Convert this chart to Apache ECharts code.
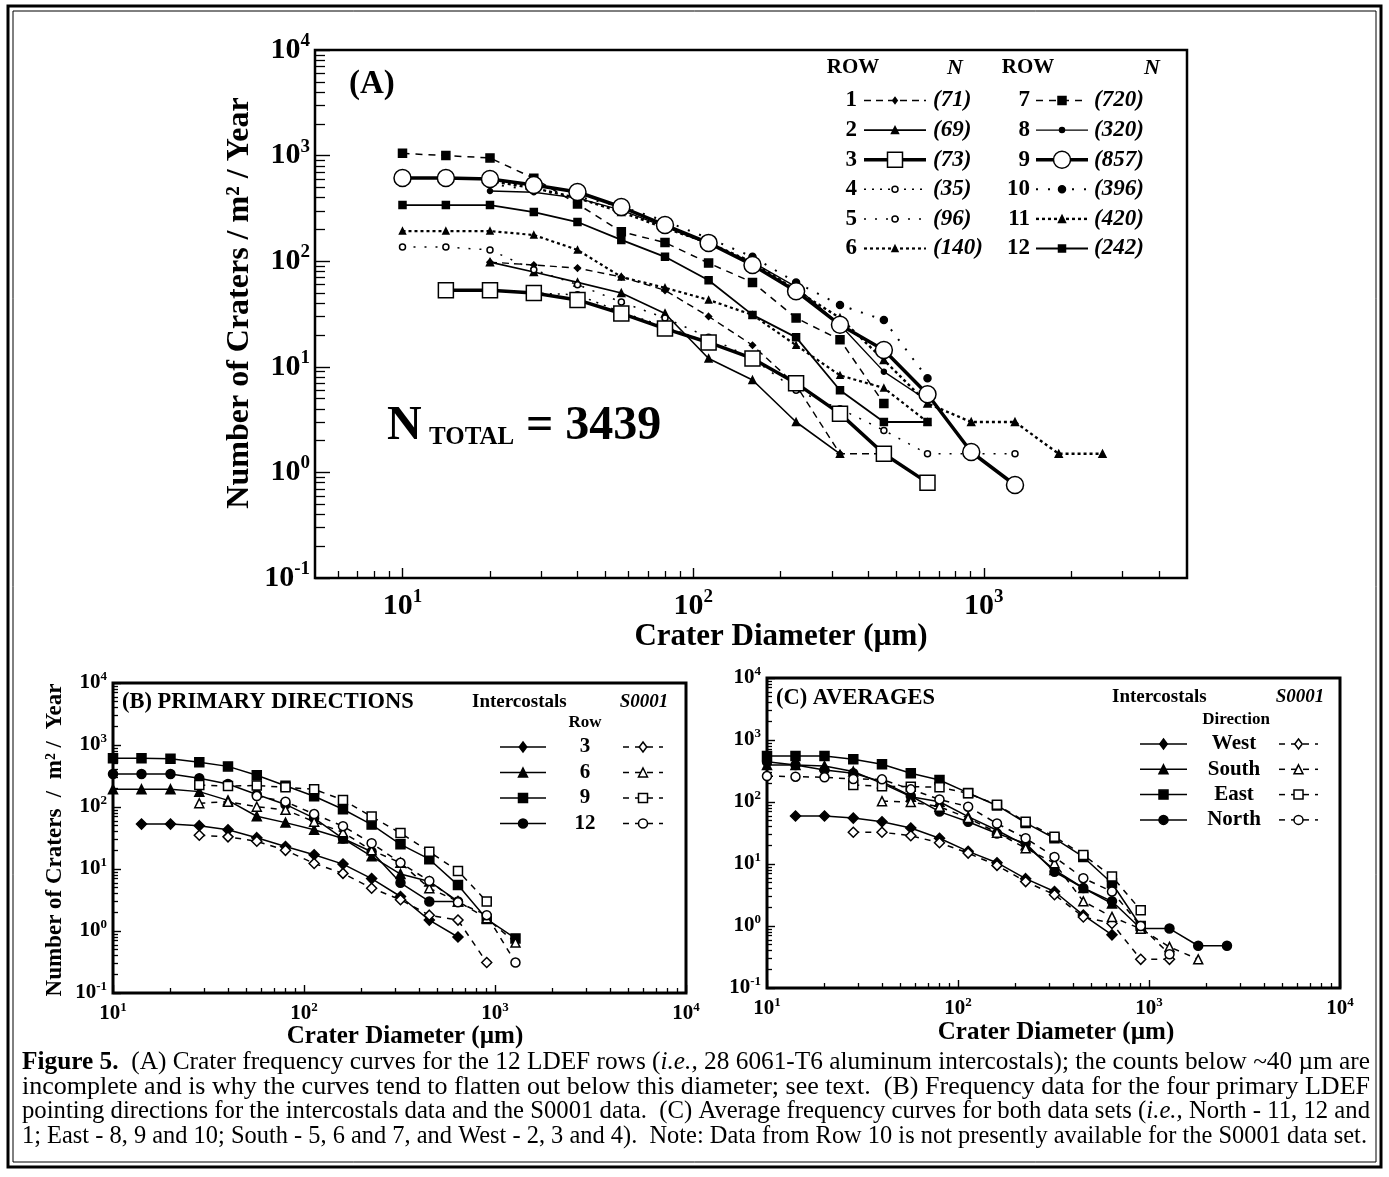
<!DOCTYPE html>
<html lang="en">
<head>
<meta charset="UTF-8" />
<title>LDEF crater frequency</title>
<style>
  html, body { margin: 0; padding: 0; background: #fff; }
  #main { width: 1389px; height: 1177px; }
</style>
</head>
<body>
<div id="main"></div>
<script src="https://cdn.jsdelivr.net/npm/echarts@6/dist/echarts.min.js"></script>
<script>
// crater diameter bins (um), sqrt(2) steps
const diam = [10, 14.1, 20, 28.3, 40, 56.6, 80, 113, 160, 226, 320, 453, 640, 905, 1280, 1810, 2560];

// (A) the 12 LDEF rows, one value per diameter bin (null = no point)
const row1 = [null, null, 98, 92, 86, 71, 53, 30, 16, 6.7, 1.5, 1.5];
const row2 = [null, null, 98, 79, 63, 50, 32, 12, 7.5, 3.0, 1.5];
const row3 = [null, 53, 53, 50, 43, 32, 23, 17, 12, 7.0, 3.6, 1.5, 0.8];
const row4 = [null, 53, 53, 50, 48, 33, 24, 17, 12, 7.0, 3.6, 1.5];
const row5 = [136, 136, 128, 83, 60, 41, 29, 19, 12, 6.0, 4.0, 2.5, 1.5, 1.5, 1.5];
const row6 = [193, 193, 193, 177, 128, 71, 56, 43, 31, 16, 8.3, 6.3, 3.0];
const row7 = [1050, 1000, 950, 610, 348, 190, 150, 96, 63, 29, 18, 4.5];
const row8 = [null, null, 462, 450, 396, 305, 211, 145, 98, 57, 25, 9, 4.8];
const row9 = [614, 614, 600, 527, 452, 326, 220, 149, 92, 52, 25, 14.4, 5.5, 1.56, 0.76];
const row10 = [null, null, 540, 470, 410, 330, 240, 165, 110, 63, 38.5, 27.7, 7.8];
const row11 = [null, null, 575, 493, 396, 292, 206, 149, 98, 53, 29, 11.6, 4.5, 3.0, 3.0, 1.5, 1.5];
const row12 = [340, 340, 340, 292, 235, 159, 110, 66, 31, 19, 6.0, 3.0, 3.0];
const rowN = [71, 69, 73, 35, 96, 140, 720, 320, 857, 396, 420, 242];

// (B) S0001 data for rows 3, 6, 9, 12
const s0001Row3 = [null, null, null, 35, 33, 28, 20, 12.3, 8.5, 4.9, 3.2, 1.8, 1.5, 0.31];
const s0001Row6 = [null, null, null, 115, 122, 101, 90, 58, 39, 20, 12.6, 4.9, 3.0, 1.6, 0.65];
const s0001Row9 = [null, null, null, 226, 218, 222, 208, 193, 130, 70, 38, 19, 9.3, 3.0];
const s0001Row12 = [null, null, null, null, null, 150, 122, 77, 49, 26, 12.6, 6.4, 2.9, 1.8, 0.31];

// (C) averages by direction
const directions = ['West', 'South', 'East', 'North'];
const avgWest = [null, 59.5, 59.5, 55, 48, 38, 26, 16, 10.5, 5.8, 3.6, 1.5, 0.72];
const avgSouth = [395, 395, 381, 310, 200, 122, 101, 58, 35, 20, 8.0, 4.1, 2.3];
const avgEast = [552, 552, 552, 488, 406, 290, 226, 140, 88, 46, 26, 13, 4.9, 1.0];
const avgNorth = [447, 395, 328, 290, 213, 125, 70, 48, 31, 21.5, 7.5, 4.1, 2.5, 0.91, 0.91, 0.48, 0.48];
const s0001West = [null, null, null, 32.5, 32.5, 28.6, 22, 15, 9.5, 5.2, 3.2, 1.4, 1.1, 0.29, 0.29];
const s0001South = [null, null, null, null, 103, 100, 84, 55, 32, 18, 10.3, 2.5, 1.4, 0.9, 0.46, 0.29];
const s0001East = [null, null, null, 188, 180, 177, 173, 138, 90, 48, 27.6, 14, 6.3, 1.8];
const s0001North = [262, 256, 250, 235, 232, 160, 110, 84, 45, 26, 13, 5.9, 3.6, 1.0, 0.35];

const SERIF = '"Liberation Serif", "Times New Roman", Times, serif';
const BLACK = '#000';

const pts = (arr) => arr.map((v, i) => (v == null ? null : [diam[i], v])).filter(Boolean);

function tickVals(min, max, mults) {
  const out = [];
  for (let e = Math.floor(Math.log10(min)); e <= Math.ceil(Math.log10(max)); e++) {
    mults.forEach((m) => {
      const v = m * Math.pow(10, e);
      if (v >= min * 0.9999 && v <= max * 1.0001) out.push(+v.toPrecision(6));
    });
  }
  return out;
}
const MINOR = [2, 3, 4, 5, 6, 7, 8, 9];

function powRich(size, sup) {
  return {
    formatter: (v) => '{b|10}{s|' + Math.round(Math.log10(v)) + '}',
    rich: {
      b: { fontFamily: SERIF, fontWeight: 'bold', fontSize: size, color: BLACK },
      s: { fontFamily: SERIF, fontWeight: 'bold', fontSize: sup, color: BLACK, padding: [0, 0, Math.round(size * 0.6), 0] }
    }
  };
}

// two axes per direction: one for the decades (labels + long ticks), one for minor ticks
function logAxes(pos, grid, min, max, o) {
  const majors = tickVals(min, max, [1]);
  const minors = tickVals(min, max, MINOR).filter((v) => v > min && v < max);
  const base = { type: 'log', logBase: 10, gridIndex: grid, min, max, position: pos,
    axisLine: { show: false }, splitLine: { show: false }, minorTick: { show: false } };
  return [
    Object.assign({}, base, {
      axisTick: { show: true, inside: true, length: o.major, lineStyle: { color: BLACK, width: 1.4 }, customValues: majors },
      axisLabel: Object.assign({ show: true, margin: o.margin, customValues: majors }, powRich(o.size, o.sup))
    }),
    Object.assign({}, base, {
      axisTick: { show: true, inside: true, length: o.minor, lineStyle: { color: BLACK, width: 1.3 }, customValues: minors },
      axisLabel: { show: false }
    })
  ];
}

const xAxis = [].concat(
  logAxes('bottom', 0, 5, 5000, { major: 10, minor: 7, margin: 10, size: 30, sup: 19 }),
  logAxes('bottom', 1, 10, 10000, { major: 8, minor: 5, margin: 8, size: 21, sup: 13 }),
  logAxes('bottom', 2, 10, 10000, { major: 8, minor: 5, margin: 8, size: 21, sup: 13 })
);
const yAxis = [].concat(
  logAxes('left', 0, 0.1, 10000, { major: 15, minor: 10, margin: 5, size: 30, sup: 19 }),
  logAxes('left', 1, 0.1, 10000, { major: 8, minor: 5, margin: 6, size: 21, sup: 13 }),
  logAxes('left', 2, 0.1, 10000, { major: 8, minor: 5, margin: 6, size: 21, sup: 13 })
);

// line/marker looks of the 12 rows in (A)
const rowLook = [
  { dash: [7, 5], w: 1.4, sym: 'diamond', size: 6, fill: BLACK },
  { dash: null, w: 1.6, sym: 'triangle', size: 7, fill: BLACK },
  { dash: null, w: 3.5, sym: 'rect', size: 15, fill: '#fff' },
  { dash: [2, 6], w: 1.5, sym: 'circle', size: 6, fill: '#fff' },
  { dash: [2, 9], w: 1.5, sym: 'circle', size: 6, fill: '#fff' },
  { dash: [3, 3], w: 2.2, sym: 'triangle', size: 6, fill: BLACK },
  { dash: [7, 6], w: 1.5, sym: 'rect', size: 8, fill: BLACK },
  { dash: null, w: 1.4, sym: 'circle', size: 5, fill: BLACK },
  { dash: null, w: 3.5, sym: 'circle', size: 17, fill: '#fff' },
  { dash: [2, 10], w: 2, sym: 'circle', size: 7, fill: BLACK },
  { dash: [3, 3], w: 2.4, sym: 'triangle', size: 7, fill: BLACK },
  { dash: null, w: 1.8, sym: 'rect', size: 7, fill: BLACK }
];
const rows = [row1, row2, row3, row4, row5, row6, row7, row8, row9, row10, row11, row12];

function lineSeries(name, arr, axis, look, z) {
  return {
    name, type: 'line', xAxisIndex: axis, yAxisIndex: axis, data: pts(arr), silent: true,
    symbol: look.sym, symbolSize: look.size, showSymbol: true, z: z || 2,
    lineStyle: { color: BLACK, width: look.w, type: look.dash || 'solid' },
    itemStyle: { color: look.fill, borderColor: BLACK, borderWidth: 1.5 }
  };
}

const series = [];
rows.forEach((r, i) => series.push(lineSeries('Row ' + (i + 1), r, 0, rowLook[i], (i === 2 || i === 8) ? 4 : 3)));

// (B) and (C): solid filled = intercostals, dashed open = S0001
const dirSym = [['diamond', 10], ['triangle', 9], ['rect', 9], ['circle', 9]];
const solidLook = (k) => ({ dash: null, w: 1.5, sym: dirSym[k][0], size: dirSym[k][1], fill: BLACK });
const openLook = (k) => ({ dash: [6, 6], w: 1.5, sym: dirSym[k][0], size: dirSym[k][1], fill: '#fff' });
[row3, row6, row9, row12].forEach((r, k) => series.push(lineSeries('B int ' + k, r, 2, solidLook(k))));
[s0001Row3, s0001Row6, s0001Row9, s0001Row12].forEach((r, k) => series.push(lineSeries('B s0001 ' + k, r, 2, openLook(k), 4)));
[avgWest, avgSouth, avgEast, avgNorth].forEach((r, k) => series.push(lineSeries('C int ' + directions[k], r, 4, solidLook(k))));
[s0001West, s0001South, s0001East, s0001North].forEach((r, k) => series.push(lineSeries('C s0001 ' + directions[k], r, 4, openLook(k), 4)));

// ---------- graphic: legends, titles, caption, frame ----------
const g = [];
function txt(x, y, text, size, opt) {
  opt = opt || {};
  g.push({
    type: 'text', x, y, rotation: opt.rot || 0, silent: true, z: 10,
    style: {
      text, fill: BLACK, textAlign: opt.align || 'left', verticalAlign: 'middle',
      font: (opt.italic ? 'italic ' : '') + (opt.normal ? '' : 'bold ') + size + 'px ' + SERIF
    }
  });
}
function marker(cx, cy, sym, size, fill) {
  const st = { fill, stroke: BLACK, lineWidth: 1.5 };
  const h = size / 2;
  if (sym === 'circle') g.push({ type: 'circle', z: 11, silent: true, shape: { cx, cy, r: h }, style: st });
  else if (sym === 'rect') g.push({ type: 'rect', z: 11, silent: true, shape: { x: cx - h, y: cy - h, width: size, height: size }, style: st });
  else if (sym === 'triangle') g.push({ type: 'polygon', z: 11, silent: true, shape: { points: [[cx, cy - h], [cx + h, cy + h], [cx - h, cy + h]] }, style: st });
  else g.push({ type: 'polygon', z: 11, silent: true, shape: { points: [[cx, cy - h], [cx + h * 0.75, cy], [cx, cy + h], [cx - h * 0.75, cy]] }, style: st });
}
function sample(x1, x2, y, look) {
  g.push({ type: 'line', z: 10, silent: true, shape: { x1, y1: y, x2, y2: y },
    style: { stroke: BLACK, lineWidth: look.w, lineDash: look.dash || null } });
  marker((x1 + x2) / 2, y, look.sym, look.size, look.fill);
}

// frame
g.push({ type: 'rect', silent: true, z: 1, shape: { x: 8, y: 6, width: 1373, height: 1161 }, style: { fill: 'none', stroke: BLACK, lineWidth: 3 } });
g.push({ type: 'rect', silent: true, z: 1, shape: { x: 13, y: 11, width: 1363, height: 1151 }, style: { fill: 'none', stroke: BLACK, lineWidth: 1 } });

// (A)
txt(349, 84, '(A)', 33);
txt(853, 68, 'ROW', 21, { align: 'center' });
txt(955, 68, 'N', 22, { align: 'center', italic: true });
txt(1028, 68, 'ROW', 21, { align: 'center' });
txt(1152, 68, 'N', 22, { align: 'center', italic: true });
for (let i = 0; i < 12; i++) {
  const col = i < 6 ? 0 : 1;
  const y = 100.5 + 29.6 * (i % 6);
  const numX = col ? 1030 : 857;
  const sx1 = col ? 1036 : 864;
  const sx2 = col ? 1088 : 926;
  const nX = col ? 1094 : 933;
  txt(numX, y, String(i + 1), 23, { align: 'right' });
  sample(sx1, sx2, y, rowLook[i]);
  txt(nX, y, '(' + rowN[i] + ')', 23, { italic: true });
}
txt(387, 427, 'N', 48);
txt(429, 438, 'TOTAL', 25);
txt(526, 427, '= 3439', 48);
txt(240, 303, 'Number of Craters / m\u00b2 / Year', 32, { align: 'center', rot: Math.PI / 2 });
txt(781, 637, 'Crater Diameter (\u00b5m)', 31, { align: 'center' });

// (B)
txt(122, 702, '(B) PRIMARY DIRECTIONS', 22.5);
txt(472, 702, 'Intercostals', 19);
txt(644, 702, 'S0001', 19, { align: 'center', italic: true });
txt(585, 723, 'Row', 17, { align: 'center' });
['3', '6', '9', '12'].forEach((lab, k) => {
  const y = 747 + 25.5 * k;
  sample(500, 546, y, solidLook(k));
  txt(585, y, lab, 21, { align: 'center' });
  sample(623, 663, y, openLook(k));
});
txt(55, 840, 'Number of Craters  /  m\u00b2 /  Year', 23, { align: 'center', rot: Math.PI / 2 });
txt(405, 1037, 'Crater Diameter (\u00b5m)', 25, { align: 'center' });

// (C)
txt(776, 698, '(C) AVERAGES', 22.5);
txt(1112, 697, 'Intercostals', 19);
txt(1300, 697, 'S0001', 19, { align: 'center', italic: true });
txt(1236, 720, 'Direction', 17, { align: 'center' });
directions.forEach((lab, k) => {
  const y = 744 + 25.3 * k;
  sample(1140, 1187, y, solidLook(k));
  txt(1234, y, lab, 21, { align: 'center' });
  sample(1279, 1318, y, openLook(k));
});
txt(1056, 1033, 'Crater Diameter (\u00b5m)', 25, { align: 'center' });

// caption, each line squeezed/stretched to the column width
const capSize = 26;
const capFonts = {
  b: 'bold ' + capSize + 'px ' + SERIF,
  r: capSize + 'px ' + SERIF,
  i: 'italic ' + capSize + 'px ' + SERIF
};
const caption = [
  [['b', 'Figure 5.'], ['r', '  (A) Crater frequency curves for the 12 LDEF rows ('], ['i', 'i.e.,'], ['r', ' 28 6061-T6 aluminum intercostals); the counts below ~40 \u00b5m are']],
  [['r', 'incomplete and is why the curves tend to flatten out below this diameter; see text.  (B) Frequency data for the four primary LDEF']],
  [['r', 'pointing directions for the intercostals data and the S0001 data.  (C) Average frequency curves for both data sets ('], ['i', 'i.e.,'], ['r', ' North - 11, 12 and']],
  [['r', '1; East - 8, 9 and 10; South - 5, 6 and 7, and West - 2, 3 and 4).  Note: Data from Row 10 is not presently available for the S0001 data set.']]
];
const capWidth = [1348, 1348, 1348, 1345];
const ctx = document.createElement('canvas').getContext('2d');
caption.forEach((segs, li) => {
  let w = 0;
  segs.forEach(([k, t]) => { ctx.font = capFonts[k]; w += ctx.measureText(t).width; });
  g.push({
    type: 'text', x: 22, y: 1062 + 24.7 * li, scaleX: capWidth[li] / w, silent: true, z: 10,
    style: {
      text: segs.map(([k, t]) => '{' + k + '|' + t + '}').join(''),
      verticalAlign: 'middle', textAlign: 'left',
      rich: {
        b: { fontFamily: SERIF, fontSize: capSize, fontWeight: 'bold', color: BLACK },
        r: { fontFamily: SERIF, fontSize: capSize, color: BLACK },
        i: { fontFamily: SERIF, fontSize: capSize, fontStyle: 'italic', color: BLACK }
      }
    }
  });
});

const chart = echarts.init(document.getElementById('main'));
chart.setOption({
  animation: false,
  backgroundColor: '#fff',
  grid: [
    { left: 315, top: 50, width: 872, height: 528, show: true, borderColor: BLACK, borderWidth: 2.5, outerBoundsMode: 'none' },
    { left: 113, top: 683, width: 573, height: 310, show: true, borderColor: BLACK, borderWidth: 3, outerBoundsMode: 'none' },
    { left: 767, top: 678, width: 573, height: 310, show: true, borderColor: BLACK, borderWidth: 3, outerBoundsMode: 'none' }
  ],
  xAxis,
  yAxis,
  series,
  graphic: { elements: g }
});
</script>
</body>
</html>
